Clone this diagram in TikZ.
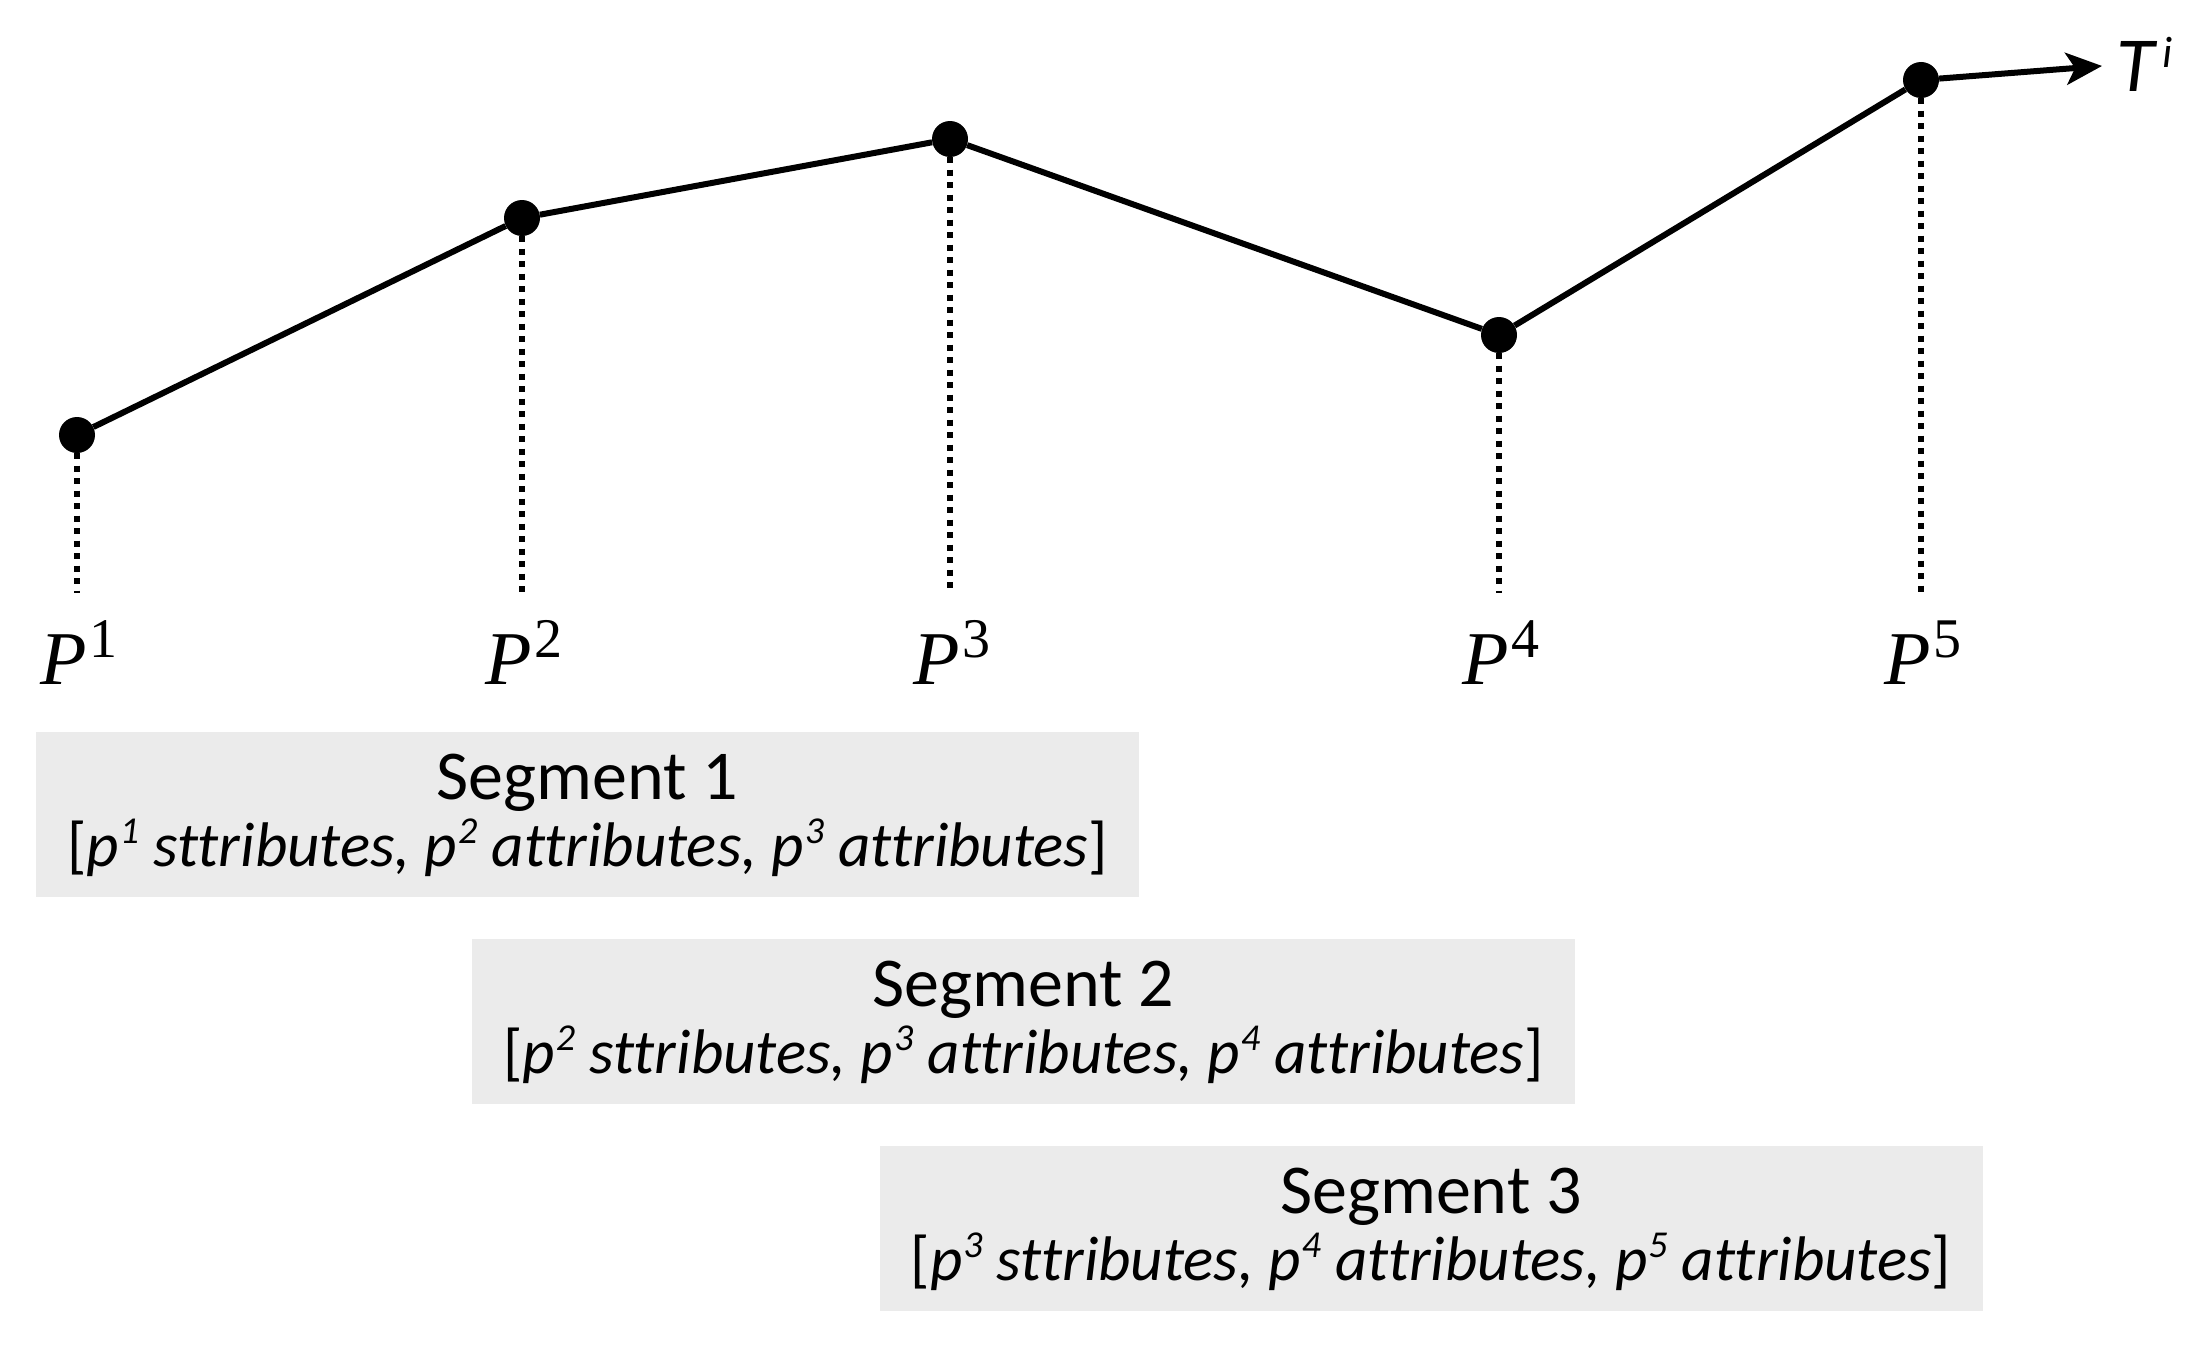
\documentclass[tikz,border=0pt]{standalone}
\usepackage{fontspec}
\setmainfont{Carlito}[Ligatures={NoCommon}]
\newfontfamily\pfont{Liberation Serif}
\usetikzlibrary{arrows.meta,calc}
\definecolor{boxgray}{RGB}{235,235,235}
\newcommand{\plab}[1]{{\pfont\itshape P}\hspace{3pt}\raisebox{27pt}{\pfont\fontsize{56}{60}\selectfont #1}}
\newcommand{\sups}[1]{\hspace{1pt}\raisebox{23pt}{\fontsize{38}{40}\selectfont #1}}
\begin{document}
\begin{tikzpicture}[x=1pt,y=-1pt,
 pt/.style={circle,fill=black,inner sep=0pt,minimum size=36pt},
 link/.style={line width=6pt},
 guide/.style={line width=6pt,dash pattern=on 6pt off 6.5pt},
 plabel/.style={anchor=base,inner sep=0pt,font=\fontsize{76}{90}\selectfont},
 segbox/.style={fill=boxgray,minimum width=1103pt,minimum height=165pt,inner sep=0pt},
 segtitle/.style={anchor=base,inner sep=0pt,font=\fontsize{70}{84}\selectfont},
 seglist/.style={anchor=base,inner sep=0pt,font=\fontsize{63}{76}\selectfont},
]
\useasboundingbox (0,0) rectangle (2196,1346);
% points
\node[pt] (p1) at (77,435) {};
\node[pt] (p2) at (522,218) {};
\node[pt] (p3) at (950,139) {};
\node[pt] (p4) at (1499,335) {};
\node[pt] (p5) at (1921,80) {};
% guide ends
\coordinate (g1) at (77,593);
\coordinate (g2) at (522,593);
\coordinate (g3) at (950,593);
\coordinate (g4) at (1499,593);
\coordinate (g5) at (1921,593);
\foreach \i in {1,...,5} {\draw[guide] (p\i.south) -- (g\i);}
% polyline
\draw[link] (p1) -- (p2) -- (p3) -- (p4) -- (p5);
% trajectory label
\node[anchor=base west,inner sep=0pt,font=\fontsize{78}{90}\selectfont\itshape] (ti) at (2116,92) {T\hspace{8pt}\raisebox{24pt}{\fontsize{44}{46}\selectfont i}};
\draw[link,-{Stealth[length=36pt,width=32pt,inset=9pt]},shorten >=14pt] (p5) -- (ti.west);
% labels
\node[plabel] (l1) at (79,684) {\plab{1}};
\node[plabel] (l2) at (524,684) {\plab{2}};
\node[plabel] (l3) at (952,684) {\plab{3}};
\node[plabel] (l4) at (1501,684) {\plab{4}};
\node[plabel] (l5) at (1923,684) {\plab{5}};
% segments
\node[segbox] (s1) at (587.5,814.5) {};
\node[segtitle] (s1a) at ($(s1.north)+(0,68)$) {Segment 1};
\node[seglist] (s1b) at ($(s1.north)+(0,135)$) {[\textit{p\sups{1} sttributes, p\sups{2} attributes, p\sups{3} attributes}]};
\node[segbox] (s2) at (1023.5,1021.5) {};
\node[segtitle] (s2a) at ($(s2.north)+(0,68)$) {Segment 2};
\node[seglist] (s2b) at ($(s2.north)+(0,135)$) {[\textit{p\sups{2} sttributes, p\sups{3} attributes, p\sups{4} attributes}]};
\node[segbox] (s3) at (1431,1228.5) {};
\node[segtitle] (s3a) at ($(s3.north)+(0,68)$) {Segment 3};
\node[seglist] (s3b) at ($(s3.north)+(0,135)$) {[\textit{p\sups{3} sttributes, p\sups{4} attributes, p\sups{5} attributes}]};
\end{tikzpicture}
\end{document}
